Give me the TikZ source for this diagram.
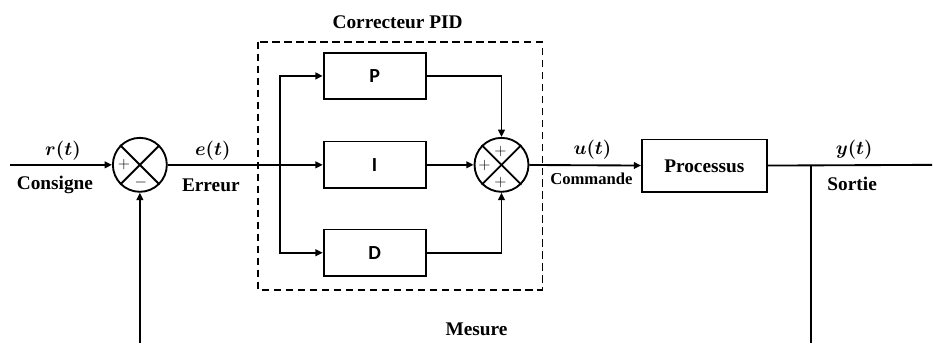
\documentclass[tikz,border=0pt]{standalone}
\usepackage{fontspec}
\usepackage{bm}
\setmainfont{Liberation Serif}
\newfontfamily\blockfont{Carlito}
\usetikzlibrary{arrows.meta}

\begin{document}
\begin{tikzpicture}[x=0.75pt, y=-0.75pt, line width=1.4pt,
    sumnode/.style={circle, draw, minimum size=40.5pt, inner sep=0pt},
    pidbox/.style={rectangle, draw, minimum width=76.5pt, minimum height=35pt,
        font=\blockfont\bfseries\fontsize{15}{17}\selectfont},
    procbox/.style={rectangle, draw, minimum width=93.5pt, minimum height=39.5pt,
        font=\bfseries\fontsize{14.5}{16}\selectfont},
    lbl/.style={font=\bfseries\fontsize{14.5}{16}\selectfont, inner sep=1pt},
    sig/.style={font=\fontsize{13}{14}\selectfont, inner sep=0pt},
    >={Triangle[length=5.5pt,width=5pt]} ]
    % --- blocks ---
    \node[sumnode] (s1) at (140,165) {};
    \node[pidbox] (P) at (375,76) {P};
    \node[pidbox] (I) at (375,165) {I};
    \node[pidbox] (D) at (375,253) {D};
    \node[sumnode] (s2) at (502,165) {};
    \node[procbox] (proc) at (705,166) {Processus};

    % crosses and signs
    \draw (s1.north west) -- (s1.south east);
    \draw (s1.north east) -- (s1.south west);
    \node[sig] (s1a) at (124,165) {$+$};
    \node[sig] (s1b) at (141,183) {$-$};
    \draw (s2.north west) -- (s2.south east);
    \draw (s2.north east) -- (s2.south west);
    \node[sig] (s2a) at (501,152) {$+$};
    \node[sig] (s2b) at (485,166) {$+$};
    \node[sig] (s2c) at (501,183) {$+$};

    % --- points ---
    \coordinate (in) at (10,165);
    \coordinate (br) at (280,165);
    \coordinate (tap) at (812,165);
    \coordinate (out) at (933,165);
    \coordinate (fbl) at (140,343);
    \coordinate (fbr) at (812,343);

    % --- connectors ---
    \draw[->] (in) -- (s1);
    \draw (s1) -- (br);
    \draw[->] (br) -- (I);
    \draw[->] (br) |- (P);
    \draw[->] (br) |- (D);
    \draw[->] (P) -| (s2);
    \draw[->] (I) -- (s2);
    \draw[->] (D) -| (s2);
    \draw[->] (s2) -- (proc);
    \draw (proc) -- (out);
    \draw (tap) -- (fbr);
    \draw[->] (fbl) -- (s1);

    % PID frame
    \draw[dash pattern=on 5.5pt off 3.5pt] (258,42) rectangle (543,290);
    \node[lbl] (pid) at (398,22) {Correcteur PID};

    % --- labels ---
    \node[lbl] (rt) at (63,151) {$\bm{r(t)}$};
    \node[lbl] (cons) at (55,185) {Consigne};
    \node[lbl] (et) at (213,151) {$\bm{e(t)}$};
    \node[lbl] (err) at (211,185) {Erreur};
    \node[lbl] (ut) at (593,150) {$\bm{u(t)}$};
    \node[lbl, font=\bfseries\fontsize{12.5}{14}\selectfont] (cmd) at (592,179) {Commande};
    \node[lbl] (yt) at (855,150) {$\bm{y(t)}$};
    \node[lbl] (sort) at (853,184) {Sortie};
    \node[lbl] (mes) at (477,330) {Mesure};

    % Bounding box for padding
    \useasboundingbox (0,0) rectangle (933,343);
\end{tikzpicture}
\end{document}
